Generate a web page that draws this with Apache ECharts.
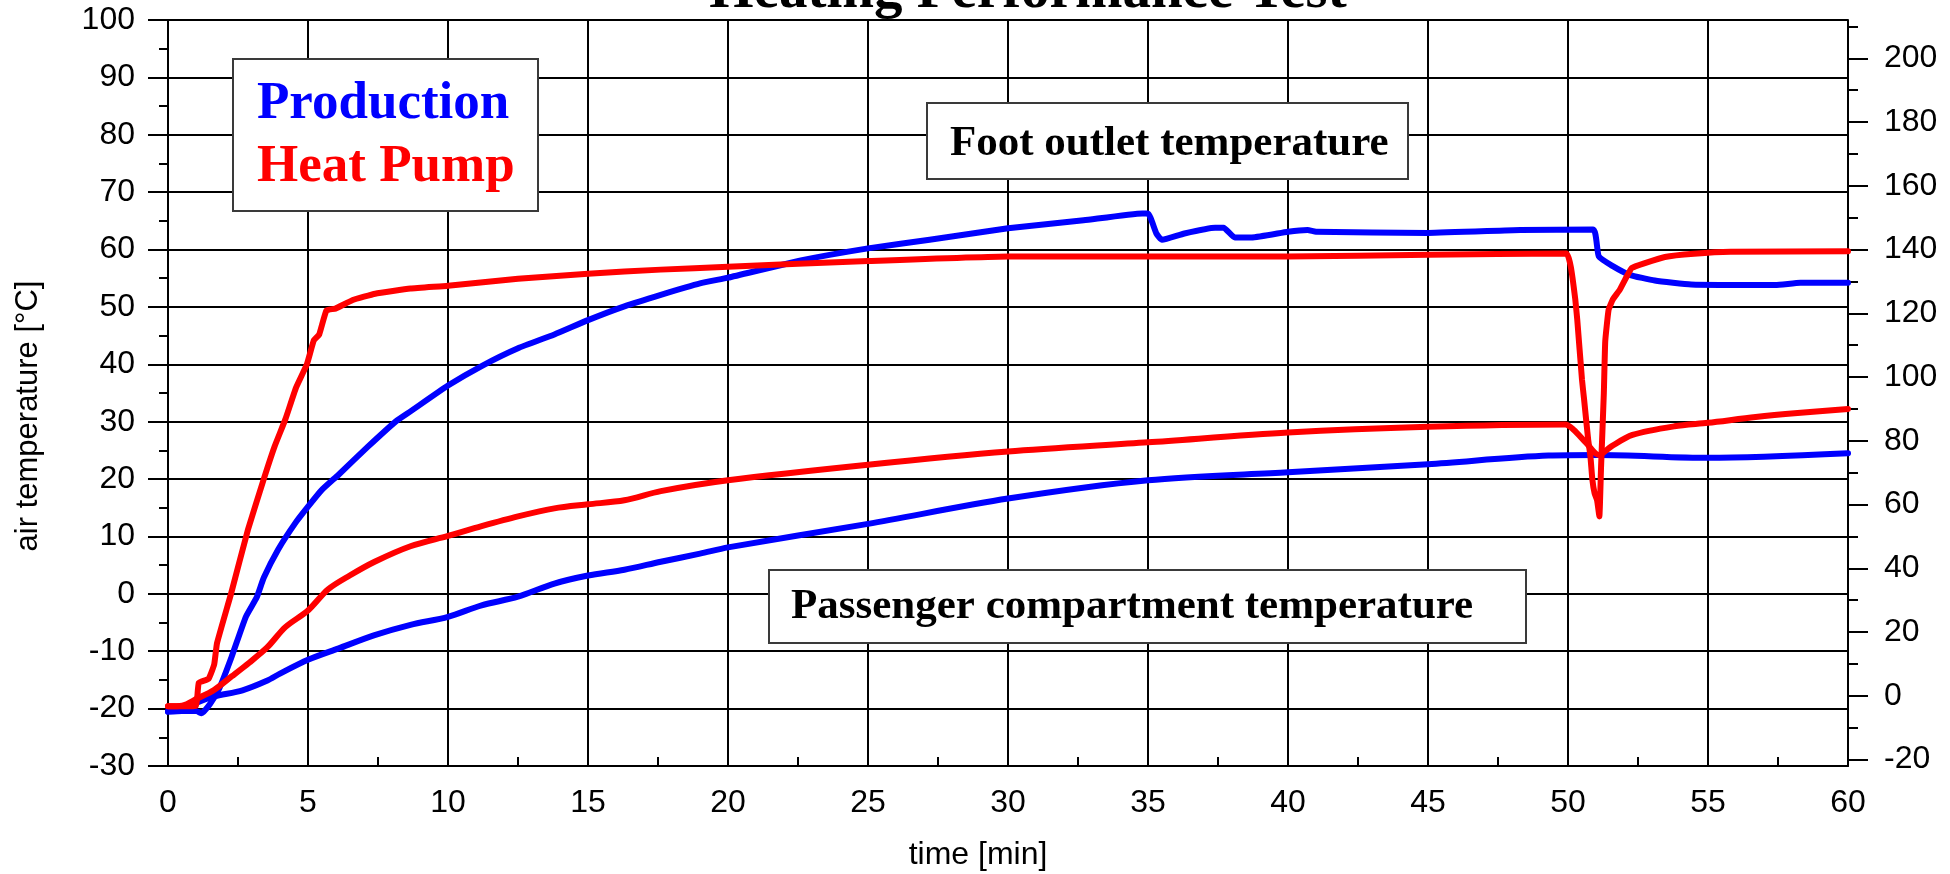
<!DOCTYPE html>
<html>
<head>
<meta charset="utf-8">
<script src="https://cdn.jsdelivr.net/npm/echarts@6/dist/echarts.min.js"></script>
<style>
  html, body { margin: 0; padding: 0; background: #fff; }
  #chart { width: 1950px; height: 874px; }
</style>
</head>
<body>
<div id="chart"></div>
<script>
// ---- data (time in minutes, temperature in °C) ----
const prodFootTime = [0, 0.5, 1.0, 1.2, 1.5, 1.83, 2.27, 2.78, 3.17, 3.42, 3.93, 4.57, 5, 5.47, 6.1, 7.13, 8.15, 8.66, 10, 11.2, 12.5, 13.8, 15, 16.3, 17.6, 19, 20, 22.6, 25, 27.2, 30, 32.7, 34.8, 35.0, 35.3, 35.5, 36.3, 37.4, 37.7, 38.1, 38.7, 40, 40.7, 41.0, 45, 48.3, 50.9, 51.1, 51.6, 52.2, 53.1, 54.4, 57.4, 58.3, 60];
const prodFootTemp = [-20.5, -20.4, -20.4, -20.8, -19.2, -16.5, -11, -4, -0.6, 2.8, 7.7, 12.5, 15.2, 18, 20.8, 25.6, 30.1, 31.8, 36.3, 39.7, 42.8, 45.2, 47.7, 50.1, 52.1, 54.1, 55.1, 58.1, 60.2, 61.7, 63.7, 65.1, 66.3, 66.3, 62.8, 61.7, 62.8, 63.8, 63.8, 62.1, 62.1, 63.1, 63.4, 63.1, 62.9, 63.4, 63.5, 58.8, 57.1, 55.6, 54.6, 53.9, 53.8, 54.2, 54.2];

const prodCabinTime = [0, 0.5, 1.0, 1.63, 2.66, 3.55, 4.0, 5, 6.1, 7.38, 8.66, 10, 11.2, 12.5, 13.8, 15, 16.3, 17.6, 19, 20, 25, 30, 35, 40, 45, 49.3, 51.1, 55, 60];
const prodCabinTemp = [-20.5, -20.2, -19, -17.9, -16.8, -15.1, -13.9, -11.5, -9.5, -7.2, -5.4, -4.0, -2, -0.5, 1.8, 3.2, 4.2, 5.6, 7, 8.1, 12.2, 16.6, 19.8, 21.2, 22.6, 24.1, 24.2, 23.7, 24.5];

const hpFootTime = [0, 0.5, 1.0, 1.1, 1.45, 1.65, 1.75, 2.25, 2.85, 3.42, 3.8, 4.19, 4.57, 4.96, 5.21, 5.4, 5.66, 5.98, 6.6, 7.4, 8.66, 10, 12.5, 15, 17.6, 20, 25, 30, 35, 40, 45, 49.95, 50.1, 50.26, 50.33, 50.5, 50.57, 50.72, 50.8, 50.87, 50.95, 51.04, 51.12, 51.18, 51.28, 51.33, 51.45, 51.6, 51.85, 52.13, 52.28, 52.72, 53.46, 54.5, 55.8, 60];
const hpFootTemp = [-19.6, -19.6, -19.5, -15.5, -14.8, -12.3, -8.6, 0, 11.1, 20, 25.6, 30.4, 35.9, 40, 44.2, 45.2, 49.4, 49.7, 51.2, 52.3, 53.2, 53.7, 54.9, 55.8, 56.5, 57, 58, 58.8, 58.8, 58.8, 59.1, 59.3, 57, 51.3, 47.8, 37.3, 34.1, 26.9, 24, 19.9, 17.5, 16.3, 13.5, 22, 35, 44, 49.5, 51.3, 53, 55.6, 56.8, 57.6, 58.7, 59.25, 59.6, 59.7];

const hpCabinTime = [0, 0.5, 1.06, 1.63, 2.27, 2.9, 3.55, 4.19, 5, 5.72, 6.49, 7.38, 8.66, 10, 11.2, 12.5, 13.8, 15, 16.3, 17.6, 20, 25, 30, 35, 40, 45, 49.9, 50.2, 50.65, 51.1, 51.55, 52.3, 53.8, 55, 56.7, 58.2, 60];
const hpCabinTemp = [-19.6, -19.5, -18.2, -16.8, -14.4, -12, -9.3, -5.8, -2.9, 0.8, 3.2, 5.6, 8.3, 10.1, 11.8, 13.5, 14.9, 15.6, 16.3, 17.9, 19.8, 22.5, 24.8, 26.4, 28.1, 29.1, 29.5, 28.6, 26.3, 24.2, 25.7, 27.7, 29.2, 29.8, 30.8, 31.5, 32.2];

const xTicks = [0, 5, 10, 15, 20, 25, 30, 35, 40, 45, 50, 55, 60];
const rightLabels = [-20, 0, 20, 40, 60, 80, 100, 120, 140, 160, 180, 200];
const rightMinor = [-10, 10, 30, 50, 70, 90, 110, 130, 150, 170, 190, 210];

const titleText = 'Heating Performance Test';
const legendProduction = 'Production';
const legendHeatPump = 'Heat Pump';
const footLabel = 'Foot outlet temperature';
const cabinLabel = 'Passenger compartment temperature';
const yName = 'air temperature [°C]';
const xName = 'time [min]';

// ---- build ----
function pairs(t, v) { return t.map((x, i) => [x, v[i]]); }
const cMin = -30, cMax = 100;
const fMin = cMin * 1.8 + 32, fMax = cMax * 1.8 + 32;

const sans = "'Liberation Sans', Arial, sans-serif";
const serif = "'Liberation Serif', 'Times New Roman', serif";
const BLUE = '#0000ff', RED = '#ff0000';
const gridBox = { left: 168, right: 102, top: 20, bottom: 108, containLabel: false };

const chart = echarts.init(document.getElementById('chart'), null, { renderer: 'canvas' });

const lineSeries = (name, data, color, smooth) => ({
  name, type: 'line', data, showSymbol: false, symbol: 'none',
  xAxisIndex: 0, yAxisIndex: 0, smooth,
  lineStyle: { color, width: 6, cap: 'round', join: 'round' }, itemStyle: { color },
  z: 3, animation: false
});

const blackLine = { color: '#000', width: 2 };
const tickFont = 32;

chart.setOption({
  animation: false,
  backgroundColor: '#fff',
  grid: [gridBox, Object.assign({}, gridBox)],
  xAxis: [{
    gridIndex: 0, type: 'value', min: 0, max: 60, interval: 5,
    axisLine: { show: true, onZero: false, lineStyle: blackLine },
    axisTick: { show: true, inside: true, length: 9, lineStyle: blackLine },
    minorTick: { show: true, splitNumber: 2, length: 9, lineStyle: blackLine },
    splitLine: { show: true, lineStyle: blackLine },
    axisLabel: { fontFamily: sans, fontSize: tickFont, color: '#000', margin: 21, customValues: xTicks }
  }, {
    gridIndex: 1, type: 'value', min: 0, max: 60, show: false
  }],
  yAxis: [{
    gridIndex: 0, type: 'value', min: cMin, max: cMax, interval: 10, position: 'left',
    axisLine: { show: true, onZero: false, lineStyle: blackLine },
    axisTick: { show: true, inside: false, length: 20, lineStyle: blackLine },
    minorTick: { show: true, splitNumber: 2, length: 9, lineStyle: blackLine },
    splitLine: { show: true, lineStyle: blackLine },
    axisLabel: { fontFamily: sans, fontSize: tickFont, color: '#000', margin: 33 }
  }, {
    gridIndex: 0, type: 'value', min: fMin, max: fMax, position: 'right',
    axisLine: { show: true, onZero: false, lineStyle: blackLine },
    axisTick: { show: true, inside: false, length: 20, customValues: rightLabels, lineStyle: blackLine },
    splitLine: { show: false },
    axisLabel: { fontFamily: sans, fontSize: tickFont, color: '#000', margin: 36, customValues: rightLabels }
  }, {
    gridIndex: 1, type: 'value', min: fMin, max: fMax, position: 'right',
    axisLine: { show: false, onZero: false },
    axisTick: { show: true, inside: false, length: 10, customValues: rightMinor, lineStyle: blackLine },
    splitLine: { show: false },
    axisLabel: { show: false }
  }],
  series: [
    lineSeries('Production – foot outlet', pairs(prodFootTime, prodFootTemp), BLUE, 0.15),
    lineSeries('Production – passenger compartment', pairs(prodCabinTime, prodCabinTemp), BLUE, 0.3),
    lineSeries('Heat Pump – foot outlet', pairs(hpFootTime, hpFootTemp), RED, 0.12),
    lineSeries('Heat Pump – passenger compartment', pairs(hpCabinTime, hpCabinTemp), RED, 0.3)
  ],
  graphic: [
    { type: 'text', z: 20, x: 1028, y: -8,
      style: { text: titleText, font: `bold 57px ${serif}`, fill: '#000',
        textAlign: 'center', textVerticalAlign: 'middle',
        textShadowColor: '#9a9a9a', textShadowOffsetX: 3, textShadowOffsetY: 3, textShadowBlur: 0 } },
    { type: 'rect', z: 10, shape: { x: 233, y: 59, width: 305, height: 152 },
      style: { fill: '#fff', stroke: '#3a3a3a', lineWidth: 2 } },
    { type: 'text', z: 11, x: 257, y: 104,
      style: { text: legendProduction, font: `bold 53px ${serif}`, fill: BLUE, textAlign: 'left', textVerticalAlign: 'middle' } },
    { type: 'text', z: 11, x: 257, y: 167,
      style: { text: legendHeatPump, font: `bold 53px ${serif}`, fill: RED, textAlign: 'left', textVerticalAlign: 'middle' } },
    { type: 'rect', z: 10, shape: { x: 927, y: 103, width: 481, height: 76 },
      style: { fill: '#fff', stroke: '#3a3a3a', lineWidth: 2 } },
    { type: 'text', z: 11, x: 950, y: 144,
      style: { text: footLabel, font: `bold 43px ${serif}`, fill: '#000', textAlign: 'left', textVerticalAlign: 'middle' } },
    { type: 'rect', z: 10, shape: { x: 769, y: 570, width: 757, height: 73 },
      style: { fill: '#fff', stroke: '#3a3a3a', lineWidth: 2 } },
    { type: 'text', z: 11, x: 791, y: 607,
      style: { text: cabinLabel, font: `bold 43px ${serif}`, fill: '#000', textAlign: 'left', textVerticalAlign: 'middle' } },
    { type: 'text', z: 11, x: 28, y: 416, rotation: Math.PI / 2,
      style: { text: yName, font: `31px ${sans}`, fill: '#000', textAlign: 'center', textVerticalAlign: 'middle' } },
    { type: 'text', z: 11, x: 978, y: 855,
      style: { text: xName, font: `32px ${sans}`, fill: '#000', textAlign: 'center', textVerticalAlign: 'middle' } }
  ]
});
</script>
</body>
</html>
